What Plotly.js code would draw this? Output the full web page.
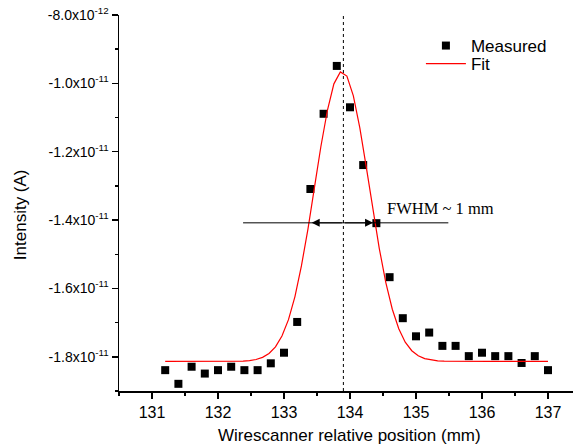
<!DOCTYPE html>
<html>
<head>
<meta charset="utf-8">
<script src="https://cdn.plot.ly/plotly-3.0.1.min.js"></script>
<style>
  html, body { margin: 0; padding: 0; background: #fff; }
  #chart { width: 573px; height: 448px; }
</style>
</head>
<body>
<div id="chart"></div>
<script>
// Wire scan positions (mm) and measured current (A)
const positions = [131.2, 131.4, 131.6, 131.8, 132.0, 132.2, 132.4, 132.6, 132.8, 133.0,
                   133.2, 133.4, 133.6, 133.8, 134.0, 134.2, 134.4, 134.6, 134.8, 135.0,
                   135.2, 135.4, 135.6, 135.8, 136.0, 136.2, 136.4, 136.6, 136.8, 137.0];
const measured = [-1.839e-11, -1.879e-11, -1.829e-11, -1.849e-11, -1.839e-11, -1.829e-11, -1.839e-11, -1.839e-11, -1.819e-11, -1.788e-11,
                  -1.698e-11, -1.309e-11, -1.089e-11, -9.49e-12, -1.070e-11, -1.239e-11, -1.409e-11, -1.567e-11, -1.687e-11, -1.740e-11,
                  -1.729e-11, -1.768e-11, -1.768e-11, -1.798e-11, -1.788e-11, -1.798e-11, -1.798e-11, -1.818e-11, -1.798e-11, -1.839e-11];

// Gaussian fit curve, sampled positions and values
const fitX = [131.200, 131.298, 131.397, 131.495, 131.593, 131.692, 131.790, 131.888, 131.986, 132.085,
              132.183, 132.281, 132.380, 132.478, 132.576, 132.675, 132.773, 132.871, 132.969, 133.068,
              133.166, 133.264, 133.363, 133.461, 133.559, 133.658, 133.756, 133.854, 133.953, 134.051,
              134.149, 134.247, 134.346, 134.444, 134.542, 134.641, 134.739, 134.837, 134.936, 135.034,
              135.132, 135.231, 135.329, 135.427, 135.525, 135.624, 135.722, 135.820, 135.919, 136.017,
              136.115, 136.214, 136.312, 136.410, 136.508, 136.607, 136.705, 136.803, 136.902, 137.000];
const fitY = [-18.135e-12, -18.135e-12, -18.135e-12, -18.135e-12, -18.135e-12, -18.135e-12, -18.135e-12, -18.135e-12, -18.135e-12, -18.135e-12,
              -18.134e-12, -18.130e-12, -18.124e-12, -18.109e-12, -18.078e-12, -18.016e-12, -17.904e-12, -17.710e-12, -17.391e-12, -16.912e-12,
              -16.237e-12, -15.340e-12, -14.262e-12, -13.051e-12, -11.848e-12, -10.787e-12, -10.014e-12, -9.664e-12, -9.786e-12, -10.366e-12,
              -11.300e-12, -12.453e-12, -13.684e-12, -14.833e-12, -15.819e-12, -16.608e-12, -17.180e-12, -17.573e-12, -17.821e-12, -17.969e-12,
              -18.053e-12, -18.096e-12, -18.118e-12, -18.128e-12, -18.132e-12, -18.135e-12, -18.135e-12, -18.135e-12, -18.135e-12, -18.135e-12,
              -18.135e-12, -18.135e-12, -18.135e-12, -18.135e-12, -18.135e-12, -18.135e-12, -18.135e-12, -18.135e-12, -18.135e-12, -18.135e-12];

// Axis ticks
const xTicks = [131, 132, 133, 134, 135, 136, 137];
const yTickVals = [-8.0e-12, -1.0e-11, -1.2e-11, -1.4e-11, -1.6e-11, -1.8e-11];
const yTickText = ['-8.0x10<sup>-12</sup>', '-1.0x10<sup>-11</sup>', '-1.2x10<sup>-11</sup>',
                   '-1.4x10<sup>-11</sup>', '-1.6x10<sup>-11</sup>', '-1.8x10<sup>-11</sup>'];
const yMinorVals = [-9e-12, -1.1e-11, -1.3e-11, -1.5e-11, -1.7e-11, -1.9e-11];

// Peak position marker and FWHM indicator
const peakPosition = 133.9;
const fwhmLevel = -1.408e-11;
const fwhmSpan = [132.38, 135.49];
const fwhmEdges = [133.42, 134.35];
const fwhmLabel = 'FWHM ~ 1 mm';

const traces = [
  {
    x: positions, y: measured, type: 'scatter', mode: 'markers', name: 'Measured',
    marker: { symbol: 'square', size: 8, color: '#000000' }, legend: 'legend'
  },
  {
    x: fitX, y: fitY, type: 'scatter', mode: 'lines', name: 'Fit',
    line: { color: '#ff0000', width: 1.2 }, legend: 'legend2'
  }
];

const axisFont = { family: 'Arial, "Liberation Sans", sans-serif', size: 16, color: '#000' };
const legendFont = { family: 'Arial, "Liberation Sans", sans-serif', size: 17, color: '#000' };

const layout = {
  width: 573, height: 448,
  margin: { l: 119, r: 0, t: 15, b: 57.3 },
  paper_bgcolor: '#fff', plot_bgcolor: '#fff',
  font: axisFont,
  showlegend: true,
  legend: {
    x: 0.665, y: 0.9654, xanchor: 'left', yanchor: 'top',
    bgcolor: 'rgba(0,0,0,0)', borderwidth: 0, font: legendFont, itemwidth: 40
  },
  legend2: {
    x: 0.665, y: 0.9175, xanchor: 'left', yanchor: 'top',
    bgcolor: 'rgba(0,0,0,0)', borderwidth: 0, font: legendFont, itemwidth: 40
  },
  xaxis: {
    range: [130.5, 137.379], tickmode: 'array', tickvals: xTicks,
    ticks: 'outside', ticklen: 6, tickwidth: 1.5, tickcolor: '#000',
    showline: true, linecolor: '#000', linewidth: 1.5, showgrid: false, zeroline: false,
    tickfont: axisFont,
    minor: { dtick: 0.5, tick0: 130.5, ticks: 'outside', ticklen: 3, tickwidth: 1.5, tickcolor: '#000', showgrid: false }
  },
  yaxis: {
    range: [-1.9e-11, -8.0e-12], tickmode: 'array', tickvals: yTickVals, ticktext: yTickText,
    ticks: 'outside', ticklen: 6, tickwidth: 1.5, tickcolor: '#000',
    showline: true, linecolor: '#000', linewidth: 1.5, showgrid: false, zeroline: false,
    tickfont: { family: 'Arial, "Liberation Sans", sans-serif', size: 14, color: '#000' },
    minor: { tickmode: 'array', tickvals: yMinorVals, ticks: 'outside', ticklen: 3, tickwidth: 1.5, tickcolor: '#000', showgrid: false }
  },
  shapes: [
    {
      type: 'line', xref: 'x', yref: 'paper', x0: peakPosition, x1: peakPosition, y0: 0, y1: 1,
      line: { color: '#000', width: 1, dash: 'dot' }
    },
    {
      type: 'line', xref: 'x', yref: 'y', x0: fwhmSpan[0], x1: fwhmSpan[1], y0: fwhmLevel, y1: fwhmLevel,
      line: { color: '#000', width: 1 }
    }
  ],
  annotations: [
    {
      x: fwhmEdges[0], y: fwhmLevel, ax: peakPosition, ay: fwhmLevel, axref: 'x', ayref: 'y',
      xref: 'x', yref: 'y', text: '', showarrow: true, arrowhead: 2, arrowsize: 1.6, arrowwidth: 1, arrowcolor: '#000'
    },
    {
      x: fwhmEdges[1], y: fwhmLevel, ax: peakPosition, ay: fwhmLevel, axref: 'x', ayref: 'y',
      xref: 'x', yref: 'y', text: '', showarrow: true, arrowhead: 2, arrowsize: 1.6, arrowwidth: 1, arrowcolor: '#000'
    },
    {
      x: 134.53, y: -1.3648e-11, xref: 'x', yref: 'y', xanchor: 'left', yanchor: 'middle',
      text: fwhmLabel, showarrow: false,
      font: { family: '"Liberation Serif", "Times New Roman", serif', size: 16.5, color: '#000' }
    },
    {
      x: 0.5088, y: -0.1192, xref: 'paper', yref: 'paper', xanchor: 'center', yanchor: 'middle',
      text: 'Wirescanner relative position (mm)', showarrow: false,
      font: { family: 'Arial, "Liberation Sans", sans-serif', size: 17, color: '#000' }
    },
    {
      x: -0.218, y: 0.4677, xref: 'paper', yref: 'paper', xanchor: 'center', yanchor: 'middle',
      text: 'Intensity (A)', textangle: -90, showarrow: false,
      font: { family: 'Arial, "Liberation Sans", sans-serif', size: 17, color: '#000' }
    }
  ]
};

Plotly.newPlot('chart', traces, layout, { displayModeBar: false, staticPlot: true });
</script>
</body>
</html>
